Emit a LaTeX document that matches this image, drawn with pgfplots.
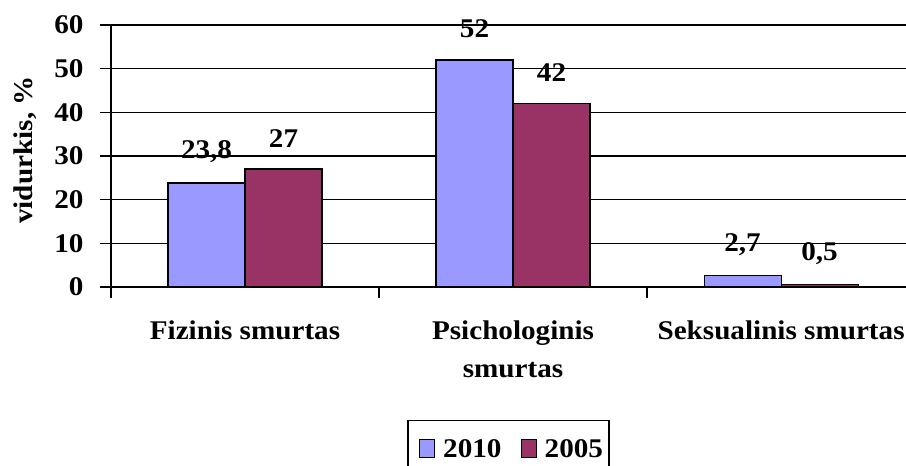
\documentclass[border=0pt]{standalone}
\usepackage{fontspec}
\setmainfont{Liberation Serif}[FakeStretch=1.08]
\usepackage{pgfplots}
\usepackage{pgfplotstable}
\pgfplotsset{compat=1.18}
\usetikzlibrary{calc}
\definecolor{c2010}{HTML}{9999FF}
\definecolor{c2005}{HTML}{993366}
\pgfplotstableread{
x y2010 y2005 l2010 l2005
0 23.8 27 23,8 27
1 52 42 52 42
2 2.7 0.5 2,7 0,5
}\data
\newcommand{\bigf}{\fontsize{27bp}{32bp}\selectfont\bfseries}
\begin{document}
\begin{tikzpicture}[font=\bigf]
\begin{axis}[
  name=ax, scale only axis, width=795bp, height=262bp,
  xmin=-0.5, xmax=2.466, ymin=0, ymax=60,
  ybar=0pt, bar width=77bp, clip=false,
  axis lines=left, axis line style={-, line width=1.2bp},
  ytick={0,10,...,60}, ymajorgrids, grid style={black, line width=1.2bp},
  xtick={-0.5,0.5,1.5}, xticklabels={},
  extra x ticks={0,1,2},
  extra x tick labels={Fizinis smurtas, {Psichologinis\\smurtas}, Seksualinis smurtas},
  extra x tick style={major tick length=0pt, xticklabel style={yshift=-30bp, align=center, font=\fontsize{27bp}{38bp}\selectfont\bfseries}},
  tick align=outside, major tick length=11bp, tick style={black, line width=1.2bp},
  /pgf/number format/assume math mode=true,
  ticklabel style={font=\bigf},
  yticklabel style={xshift=-13bp},
  nodes near coords, point meta=explicit symbolic,
  every node near coord/.append style={anchor=center, yshift=31bp, text=black, font=\bigf},
  legend columns=2,
  legend style={at={(0.5,-0.508)}, anchor=north, draw=black, line width=1.2bp,
    font=\bigf, inner xsep=4bp, inner ysep=17bp,
    /tikz/every even column/.append style={column sep=10bp}},
  legend image code/.code={\draw[#1, line width=1bp] (0bp,-8bp) rectangle (15bp,10bp);
    \path (-7bp,0bp) (21bp,0bp);},
]
\addplot[fill=c2010, draw=black, line width=1.2bp] table[x=x, y=y2010, meta=l2010] {\data};
\addplot[fill=c2005, draw=black, line width=1.2bp] table[x=x, y=y2005, meta=l2005] {\data};
\legend{2010, 2005}
\end{axis}
\node[rotate=90, anchor=center] at ($(ax.south west)+(-86bp,137bp)$) {vidurkis, \%};
\pgfresetboundingbox
\path[use as bounding box] ($(ax.south west)+(-111bp,-179bp)$) rectangle ($(ax.north east)+(0,25bp)$);
\end{tikzpicture}
\end{document}
